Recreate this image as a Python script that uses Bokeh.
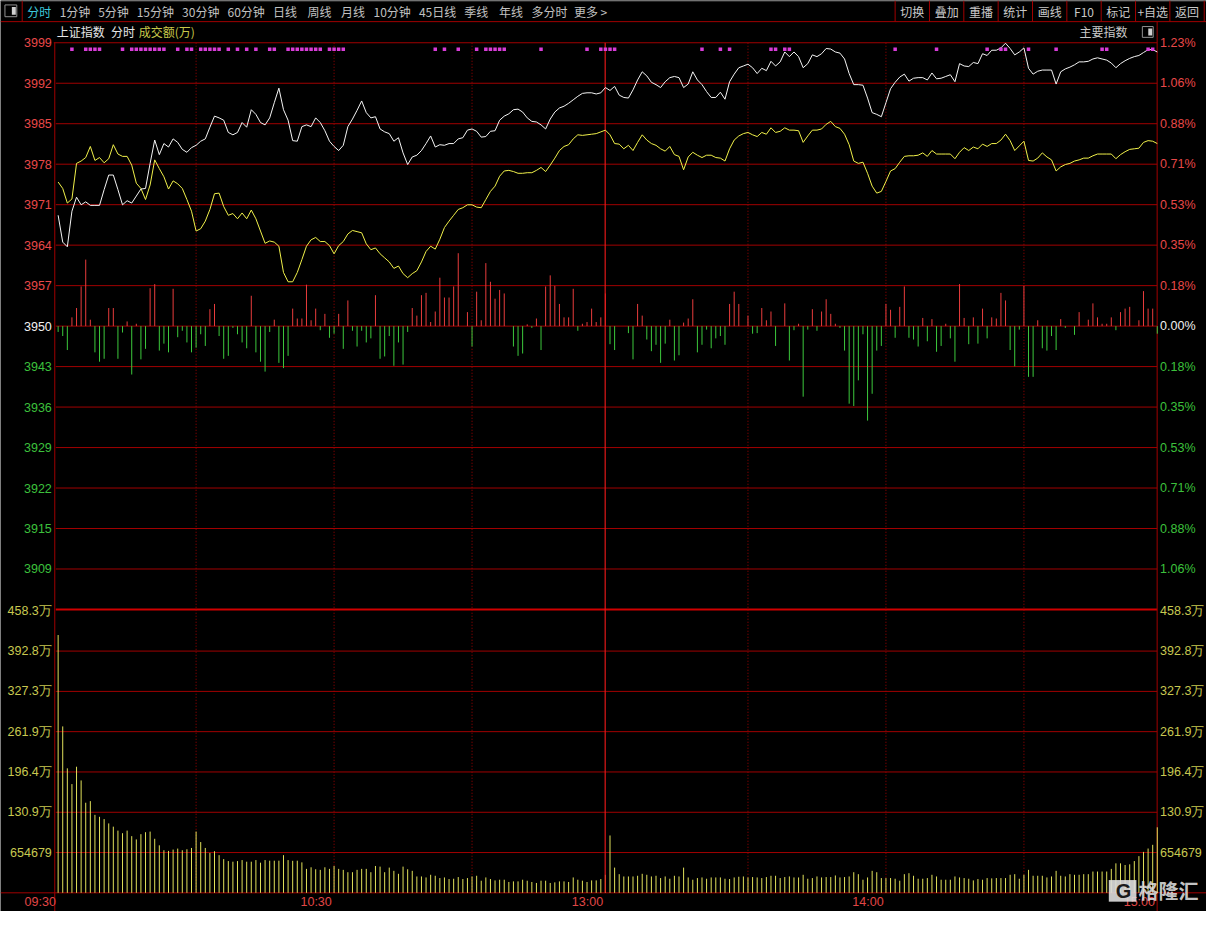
from bokeh.plotting import figure
from bokeh.models import Range1d
from bokeh.core.properties import value
from bokeh.embed import file_html
from bokeh.resources import INLINE

# ---------------------------------------------------------------- data
MINUTES = list(range(240))
PREV_CLOSE = 3950.5
PRICE_STEP = 6.94

PRICE_LABELS = ["3999", "3992", "3985", "3978", "3971", "3964", "3957", "3950",
                "3943", "3936", "3929", "3922", "3915", "3909"]
PCT_LABELS = ["1.23%", "1.06%", "0.88%", "0.71%", "0.53%", "0.35%", "0.18%", "0.00%",
              "0.18%", "0.35%", "0.53%", "0.71%", "0.88%", "1.06%"]
PRICE_LEVELS = [7, 6, 5, 4, 3, 2, 1, 0, -1, -2, -3, -4, -5, -6]
VOL_LABELS = ["458.3万", "392.8万", "327.3万", "261.9万", "196.4万", "130.9万", "654679"]
VOL_TICKS = [458.3, 392.8, 327.3, 261.9, 196.4, 130.9, 65.47]
TIME_LABELS = ["09:30", "10:30", "13:00", "14:00", "15:00"]
TIME_IDX = [0, 60, 119, 180, 239]
HALF_HOUR_IDX = [30, 60, 90, 150, 180, 210]
NOON_IDX = 119

INDEX_LINE = [
    3969.5, 3964.9, 3964.1, 3970.2, 3972.6, 3971.3, 3971.8, 3971.2, 3971.2, 3971.2,
    3973.9, 3976.4, 3976.4, 3973.9, 3971.3, 3972.0, 3971.6, 3972.8, 3974.0, 3974.1,
    3978.4, 3982.4, 3979.9, 3981.8, 3981.2, 3982.6, 3982.0, 3980.8, 3980.3, 3981.1,
    3981.5, 3982.2, 3982.6, 3984.6, 3986.5, 3986.2, 3985.8, 3983.7, 3983.3, 3983.7,
    3985.4, 3984.6, 3987.6, 3986.8, 3985.4, 3985.0, 3986.2, 3988.8, 3991.3, 3987.6,
    3985.8, 3982.3, 3982.2, 3984.7, 3985.0, 3984.7, 3986.2, 3985.4, 3984.0, 3982.2,
    3981.3, 3980.6, 3981.5, 3984.7, 3986.0, 3987.5, 3989.1, 3987.1, 3986.2, 3986.4,
    3984.3, 3983.8, 3983.5, 3982.2, 3982.8, 3980.2, 3978.2, 3979.5, 3979.8, 3980.6,
    3981.8, 3983.1, 3981.2, 3981.6, 3981.5, 3981.8, 3981.8, 3982.6, 3982.8, 3984.1,
    3984.3, 3983.9, 3982.9, 3983.0, 3983.9, 3984.0, 3985.8, 3986.5, 3986.9, 3987.6,
    3987.7, 3987.2, 3986.2, 3985.6, 3985.5, 3985.0, 3984.3, 3986.0, 3987.2, 3987.9,
    3988.2, 3988.7, 3989.3, 3989.9, 3990.4, 3990.5, 3990.5, 3990.3, 3990.5, 3991.4,
    3990.9, 3991.6, 3990.1, 3989.7, 3989.6, 3991.0, 3992.7, 3994.1, 3993.4, 3992.3,
    3991.9, 3991.4, 3992.4, 3993.1, 3993.3, 3993.1, 3991.4, 3992.0, 3994.1, 3992.7,
    3991.9, 3990.7, 3989.7, 3989.7, 3990.6, 3989.4, 3992.4, 3993.7, 3994.8, 3995.1,
    3995.4, 3994.8, 3993.8, 3994.7, 3994.3, 3995.9, 3995.1, 3995.8, 3997.5, 3996.7,
    3997.5, 3996.7, 3994.8, 3995.5, 3997.0, 3996.7, 3997.2, 3998.1, 3998.0, 3997.5,
    3997.3, 3996.3, 3993.8, 3991.9, 3991.9, 3991.8, 3989.6, 3987.1, 3986.8, 3986.4,
    3988.8, 3991.2, 3992.3, 3993.2, 3993.7, 3992.5, 3993.0, 3993.1, 3993.1, 3992.7,
    3993.9, 3992.9, 3993.0, 3993.3, 3993.6, 3992.4, 3995.5, 3995.1, 3995.0, 3995.7,
    3995.5, 3997.2, 3996.9, 3997.8, 3997.8, 3998.2, 3999.0, 3998.1, 3997.0, 3997.5,
    3998.2, 3994.7, 3993.7, 3994.2, 3994.4, 3994.4, 3994.4, 3992.0, 3994.1, 3994.6,
    3994.9, 3995.3, 3995.8, 3995.8, 3995.9, 3996.3, 3996.5, 3996.3, 3996.1, 3995.6,
    3994.8, 3995.5, 3996.0, 3996.4, 3996.7, 3996.9, 3997.4, 3997.9, 3997.9, 3997.5,
]

LEAD_LINE = [
    3975.2, 3974.1, 3971.6, 3972.3, 3978.4, 3978.8, 3979.4, 3981.3, 3978.9, 3979.4,
    3978.5, 3979.2, 3981.6, 3980.0, 3979.6, 3979.6, 3978.1, 3975.0, 3974.1, 3972.2,
    3974.7, 3979.0, 3977.5, 3976.1, 3974.0, 3975.4, 3974.9, 3974.1, 3972.2, 3970.2,
    3966.8, 3967.2, 3968.5, 3970.5, 3973.2, 3973.3, 3971.0, 3969.5, 3969.8, 3968.9,
    3969.9, 3968.9, 3970.4, 3968.9, 3966.8, 3964.7, 3965.1, 3964.9, 3964.2, 3959.7,
    3958.1, 3958.1, 3959.7, 3961.9, 3964.2, 3965.3, 3965.7, 3965.0, 3965.0, 3964.3,
    3962.9, 3964.3, 3965.0, 3966.3, 3966.9, 3966.7, 3966.5, 3964.6, 3963.6, 3963.9,
    3962.9, 3962.2, 3961.5, 3960.4, 3960.8, 3959.5, 3958.8, 3959.5, 3960.0, 3961.5,
    3963.3, 3964.2, 3963.7, 3965.4, 3967.4, 3968.5, 3969.5, 3970.5, 3970.8, 3971.3,
    3971.3, 3970.9, 3970.8, 3972.2, 3973.6, 3974.5, 3976.2, 3977.1, 3977.2, 3977.0,
    3976.7, 3976.7, 3976.8, 3976.8, 3977.2, 3977.7, 3977.0, 3978.1, 3979.3, 3980.6,
    3981.3, 3981.6, 3982.6, 3983.3, 3983.2, 3983.3, 3983.4, 3983.5, 3983.8, 3984.1,
    3983.3, 3981.8, 3981.7, 3980.9, 3981.5, 3980.6, 3982.0, 3983.3, 3982.4, 3981.8,
    3981.5, 3980.9, 3980.5, 3981.3, 3979.9, 3979.6, 3977.3, 3979.5, 3980.3, 3979.8,
    3979.4, 3979.8, 3979.8, 3979.4, 3979.3, 3978.8, 3980.9, 3982.4, 3983.1, 3983.5,
    3983.7, 3983.3, 3983.0, 3983.7, 3983.4, 3984.5, 3983.7, 3983.9, 3984.5, 3984.1,
    3984.1, 3984.0, 3982.0, 3983.1, 3984.1, 3984.1, 3984.3, 3985.1, 3985.6, 3984.7,
    3984.4, 3983.4, 3981.6, 3978.8, 3978.4, 3978.6, 3976.7, 3974.5, 3973.3, 3973.6,
    3975.3, 3977.1, 3977.5, 3978.6, 3979.6, 3979.7, 3979.7, 3979.8, 3980.2, 3979.6,
    3980.6, 3980.0, 3980.0, 3980.0, 3980.0, 3979.2, 3980.3, 3981.1, 3980.6, 3981.2,
    3980.9, 3981.7, 3981.3, 3981.8, 3981.8, 3982.4, 3983.4, 3982.3, 3980.6, 3981.4,
    3982.2, 3978.9, 3978.8, 3979.3, 3980.2, 3979.5, 3979.0, 3977.1, 3977.8, 3978.2,
    3978.4, 3978.8, 3979.0, 3979.3, 3979.3, 3979.7, 3980.0, 3980.0, 3980.0, 3980.0,
    3979.2, 3979.9, 3980.4, 3980.8, 3980.9, 3981.0, 3982.0, 3982.3, 3982.2, 3981.8,
]

UPDOWN = [
    -1.0, -1.7, -4.1, 1.5, 3.1, 6.8, 11.4, 1.1, -4.5, -6.1,
    -5.6, 3.1, 3.1, -5.6, -1.1, 0.8, -8.3, 0.4, -5.7, -3.9,
    6.5, 7.2, -4.2, -3.0, -4.5, 6.4, -1.9, -0.8, -2.8, -4.5,
    -3.7, -1.4, -3.4, 2.9, 3.8, -1.7, -5.6, -5.1, -0.3, -1.4,
    -2.8, -3.8, 5.2, -4.5, -6.1, -7.8, -1.0, 1.1, -6.3, -7.2,
    -5.1, 3.0, 1.3, 1.3, 7.1, 1.0, 3.0, -0.7, 2.1, -2.0,
    -1.3, 2.1, -3.9, 4.4, -0.8, -3.5, -0.8, -2.8, -2.1, 5.3,
    -5.6, -5.2, -1.7, -6.8, -2.8, -6.6, -1.0, 3.1, 1.8, 5.3,
    5.7, 0.7, 2.5, 8.3, 4.9, 4.9, 6.8, 12.5, 0.0, 2.4,
    -3.5, 5.9, 1.0, 10.8, 7.6, 4.7, 6.2, 5.6, 0.0, -3.5,
    -5.1, -4.7, 0.3, -0.3, 1.3, -4.1, 6.8, 8.7, 6.9, 3.8,
    1.5, 1.5, 6.4, -0.8, 0.4, 0.7, 3.0, 0.7, 1.5, 5.6,
    -3.1, -4.1, 0.0, 0.0, -1.2, -5.7, 3.8, 1.8, -2.3, -4.3,
    -3.2, -6.3, -3.0, 1.1, -5.9, -5.0, 0.6, 1.3, 4.6, -4.5,
    -3.2, -0.6, -3.8, -2.1, -1.7, -3.2, 3.8, 5.9, 3.8, 0.0,
    1.8, -1.3, -1.2, 3.1, 1.0, 2.5, -3.4, 0.0, 3.9, -5.9,
    -0.7, 0.4, -12.1, -0.6, 2.9, -0.8, 2.5, 4.6, 2.1, 0.4,
    -0.3, -4.2, -13.3, -13.7, -9.3, -1.4, -16.2, -11.6, -4.2, -3.4,
    3.8, 2.8, -2.0, 3.3, 6.8, -2.0, -2.3, -3.5, 1.4, -2.6,
    1.2, -4.4, -3.4, 0.4, -2.1, -6.1, 7.2, 1.4, -3.1, 1.5,
    -3.0, 3.0, -2.1, 1.5, 1.3, 5.7, 4.4, -4.1, -6.9, -0.6,
    6.9, -8.7, -8.7, 1.0, -3.8, -4.2, -1.7, -4.1, 1.2, -0.3,
    0.0, -1.5, 2.4, 0.0, 1.1, 3.9, 1.5, 0.4, 0.4, 1.5,
    -0.7, 2.4, 3.0, 3.3, 0.0, 1.0, 6.0, 3.0, 3.0, -1.3,
]

VOLUME = [  # 万
    418.9, 270.4, 202.3, 176.7, 204.9, 182.6, 146.4, 149.0, 126.7, 123.5,
    119.8, 112.8, 107.5, 101.1, 96.9, 101.1, 92.1, 86.8, 95.3, 98.5,
    99.5, 87.8, 77.2, 69.2, 68.1, 70.3, 71.9, 69.2, 70.8, 72.9,
    99.5, 82.5, 72.9, 64.9, 67.6, 61.2, 54.8, 51.6, 50.6, 51.6,
    53.2, 50.6, 50.6, 53.2, 49.0, 53.2, 52.2, 52.2, 52.2, 61.2,
    53.2, 52.0, 52.2, 49.5, 38.9, 41.5, 38.3, 37.3, 41.5, 38.9,
    43.6, 38.9, 37.3, 33.5, 33.5, 37.3, 38.9, 38.9, 33.5, 43.6,
    42.6, 33.5, 41.0, 35.7, 30.9, 42.6, 38.3, 35.7, 26.6, 26.6,
    25.0, 29.3, 27.7, 24.0, 25.0, 22.4, 22.9, 25.6, 22.4, 24.0,
    26.6, 27.7, 19.7, 25.0, 22.4, 20.2, 21.3, 21.3, 17.6, 18.6,
    18.6, 21.3, 19.7, 17.6, 16.0, 19.7, 19.7, 16.0, 17.0, 18.6,
    18.6, 17.6, 25.0, 21.3, 19.7, 17.6, 20.2, 20.2, 22.4, 29.3,
    93.2, 41.0, 30.3, 26.6, 26.6, 26.6, 27.7, 30.9, 29.3, 26.6,
    27.7, 24.0, 26.6, 22.9, 27.7, 26.6, 41.0, 25.0, 21.3, 24.0,
    25.0, 22.9, 25.0, 25.0, 25.0, 22.9, 22.4, 25.0, 26.1, 26.6,
    25.0, 25.6, 25.0, 24.0, 25.6, 27.7, 27.7, 24.0, 25.6, 26.6,
    25.0, 25.0, 29.3, 22.9, 24.0, 26.6, 25.0, 25.6, 25.6, 28.2,
    25.0, 25.6, 26.6, 33.5, 30.3, 21.3, 25.0, 35.7, 33.5, 24.0,
    24.0, 24.0, 22.9, 19.7, 30.3, 31.9, 27.7, 22.9, 22.9, 24.0,
    29.3, 26.6, 21.3, 21.3, 21.3, 26.6, 25.0, 24.0, 22.9, 20.2,
    22.4, 21.3, 24.0, 23.5, 24.0, 24.0, 24.0, 29.3, 30.3, 22.9,
    29.3, 37.3, 27.7, 27.7, 27.7, 25.0, 26.6, 35.7, 27.7, 26.6,
    30.3, 29.3, 29.3, 30.3, 30.3, 34.6, 34.6, 34.6, 34.6, 38.9,
    47.9, 47.9, 45.2, 46.3, 51.6, 59.6, 66.5, 72.0, 78.0, 106.5,
]

SIGNAL_MINUTES = [3, 6, 7, 8, 9, 14, 16, 17, 18, 19, 20, 21, 22, 23, 26, 28, 29,
                  31, 32, 33, 34, 35, 37, 39, 41, 43, 46, 47, 50, 51, 52, 53, 54,
                  55, 56, 57, 59, 60, 61, 62, 82, 84, 87, 91, 93, 94, 95, 96, 97,
                  105, 115, 118, 119, 120, 121, 140, 144, 146, 155, 156, 158, 159,
                  182, 191, 202, 205, 206, 211, 217, 227, 228, 237, 238]

TOOLBAR_LEFT = ["分时", "1分钟", "5分钟", "15分钟", "30分钟", "60分钟", "日线", "周线",
                "月线", "10分钟", "45日线", "季线", "年线", "多分时", "更多 >"]
TOOLBAR_RIGHT = ["切换", "叠加", "重播", "统计", "画线", "F10", "标记", "+自选", "返回"]

# ---------------------------------------------------------------- geometry
W, H = 1206, 911
REF_W, REF_H = 1222, 927
X0_PX, X_STEP_PX = 58.4, 4.66
TOP_PX, STEP_PX = 43.0, 41.19
VOL_TOP_PX, VOL_BOT_PX = 621.0, 908.0
PRICE_TOP = PREV_CLOSE + 7 * PRICE_STEP
VOL_MAX = VOL_TICKS[0]


def X(px):
    return (px - X0_PX) / X_STEP_PX


def Y(py):
    return PRICE_TOP - (py - TOP_PX) * PRICE_STEP / STEP_PX


def V(py):
    return (VOL_BOT_PX - py) * VOL_MAX / (VOL_BOT_PX - VOL_TOP_PX)


p = figure(width=W, height=H, title=None,
           x_range=Range1d(X(0), X(REF_W)), y_range=Range1d(Y(REF_H), Y(0)),
           x_axis_location=None, y_axis_location=None,
           output_backend="svg", toolbar_location=None, min_border=0)
p.extra_y_ranges = {"vol": Range1d(V(REF_H), V(0))}
p.background_fill_color = "black"
p.border_fill_color = "black"
p.outline_line_color = None
p.xgrid.grid_line_color = None
p.ygrid.grid_line_color = None

GRID = "#a00000"
BRIGHT = "#d00000"
CJK = "Noto Sans CJK SC"
NUM = "Liberation Sans"


def hseg(y, x0, x1, color=GRID, width=1, rng="default", dash="solid"):
    p.segment(x0=[X(x0)], x1=[X(x1)], y0=[y], y1=[y], line_color=color,
              line_width=width, y_range_name=rng, line_dash=dash)


def vseg(x, y0, y1, color=GRID, width=1, dash="solid"):
    p.segment(x0=[x], x1=[x], y0=[y0], y1=[y1], line_color=color,
              line_width=width, line_dash=dash)


def txt(xs, ys, texts, color, size="12px", align="left", font=CJK,
        style="normal", rng="default", alpha=1.0):
    p.text(x=xs, y=ys, text=texts, text_color=color, text_font=value(font),
           text_font_size=size, text_align=align, text_baseline="middle",
           text_font_style=style, text_alpha=alpha, y_range_name=rng)


# ---------------- toolbar
hseg(Y(0.5), 0, REF_W, color="#505050")
hseg(Y(21.5), 0, REF_W, color="#a00000")
vseg(X(22), Y(0), Y(21.5), color="#a00000")
p.rect(x=[X(10.5)], y=[Y(10.5)], width=12 / X_STEP_PX, height=12 * PRICE_STEP / STEP_PX,
       fill_color=None, line_color="#909090", line_width=1)
p.rect(x=[X(13.5)], y=[Y(10.5)], width=4 / X_STEP_PX, height=8 * PRICE_STEP / STEP_PX,
       fill_color="#d0d0d0", line_color=None)
left_x = [27, 60, 99, 138, 184, 230, 276, 311, 345, 378, 424, 470, 505, 538, 581]
txt([X(left_x[0])], [Y(11)], TOOLBAR_LEFT[:1], "#3cc8dc")
txt([X(v) for v in left_x[1:]], [Y(11)] * (len(left_x) - 1), TOOLBAR_LEFT[1:], "#c0c0c0")
sep = [906.5 + 34.8 * k for k in range(10)]
for s in sep:
    vseg(X(s), Y(0), Y(21.5), color="#a00000")
txt([X(s + 17.4) for s in sep[:-1]], [Y(11)] * 9, TOOLBAR_RIGHT, "#c8c8c8", align="center")

# ---------------- header
txt([X(57), X(112)], [Y(32)] * 2, ["上证指数", "分时"], "#e6e6e6")
txt([X(140)], [Y(32)], ["成交额(万)"], "#c8c84a")
txt([X(1142)], [Y(32)], ["主要指数"], "#c8c8c8", align="right")
p.rect(x=[X(1162.5)], y=[Y(32)], width=11 / X_STEP_PX, height=11 * PRICE_STEP / STEP_PX,
       fill_color=None, line_color="#909090", line_width=1)
p.rect(x=[X(1165)], y=[Y(32)], width=4 / X_STEP_PX, height=7 * PRICE_STEP / STEP_PX,
       fill_color="#d0d0d0", line_color=None)

# ---------------- grid
for k in PRICE_LEVELS[1:]:
    hseg(PREV_CLOSE + k * PRICE_STEP, 56, 1172)
hseg(PRICE_TOP, 54, 1172)
for v in VOL_TICKS[1:]:
    hseg(v, 56, 1172, rng="vol")
hseg(PREV_CLOSE - 7 * PRICE_STEP, 56, 1172, color=BRIGHT, width=2)
hseg(0, 0, REF_W, rng="vol")
vseg(X(55), Y(43), Y(REF_H))
vseg(X(1172), Y(21.5), Y(REF_H))
for i in HALF_HOUR_IDX:
    vseg(i, Y(43), Y(908), dash="1 2")

# ---------------- up/down bars
ups = [(i, v) for i, v in zip(MINUTES, UPDOWN) if v > 0]
dns = [(i, v) for i, v in zip(MINUTES, UPDOWN) if v < 0]
p.segment(x0=[i for i, _ in ups], x1=[i for i, _ in ups], y0=[PREV_CLOSE] * len(ups),
          y1=[PREV_CLOSE + v for _, v in ups], line_color="#e83c3c", line_width=1)
p.segment(x0=[i for i, _ in dns], x1=[i for i, _ in dns], y0=[PREV_CLOSE] * len(dns),
          y1=[PREV_CLOSE + v for _, v in dns], line_color="#3cc83c", line_width=1)

# ---------------- volume bars
p.segment(x0=MINUTES, x1=MINUTES, y0=[0] * len(MINUTES), y1=VOLUME,
          line_color="#e0e05a", line_width=1, y_range_name="vol")

# ---------------- midday separator (drawn over the bars)
p.segment(x0=[NOON_IDX - 0.05], x1=[NOON_IDX - 0.05], y0=[Y(43)], y1=[Y(908)],
          line_color="#e01818", line_width=1.2)

# ---------------- lines
p.line(MINUTES, LEAD_LINE, line_color="#f0f04a", line_width=1)
p.line(MINUTES, INDEX_LINE, line_color="#f4f4f4", line_width=1)

# ---------------- signal dots
p.scatter(x=SIGNAL_MINUTES, y=[Y(49.5)] * len(SIGNAL_MINUTES), marker="square",
          size=3.5, fill_color="#d83cd8", line_color=None)

# ---------------- axis labels
price_y = [PREV_CLOSE + k * PRICE_STEP for k in PRICE_LEVELS]
col = ["#e84848" if k > 0 else ("#f0f0f0" if k == 0 else "#3cc03c") for k in PRICE_LEVELS]
for lab, pct, y, c in zip(PRICE_LABELS, PCT_LABELS, price_y, col):
    txt([X(52)], [y], [lab], c, size="12.5px", align="right", font=NUM)
    txt([X(1175)], [y], [pct], c, size="12.5px", align="left", font=NUM)
txt([X(52)] * len(VOL_TICKS), VOL_TICKS, VOL_LABELS, "#c8c850", size="12.5px",
    align="right", font=NUM, rng="vol")
txt([X(1175)] * len(VOL_TICKS), VOL_TICKS, VOL_LABELS, "#c8c850", size="12.5px",
    align="left", font=NUM, rng="vol")
txt([i - 0.5 for i in TIME_IDX], [Y(917)] * len(TIME_IDX), TIME_LABELS, "#e04646",
    size="12.5px", align="right", font=NUM)

# ---------------- watermark
p.rect(x=[X(1137)], y=[Y(906)], width=28 / X_STEP_PX, height=22 * PRICE_STEP / STEP_PX,
       fill_color="#dedede", fill_alpha=0.9, line_color=None)
txt([X(1138)], [Y(906.5)], ["G"], "#1a1a1a", size="20px", align="center", font=NUM,
    style="bold")
txt([X(1153)], [Y(906)], ["格隆汇"], "#dedede", size="20px", align="left",
    style="bold", alpha=0.9)

open("out.html", "w").write(file_html(p, INLINE))
